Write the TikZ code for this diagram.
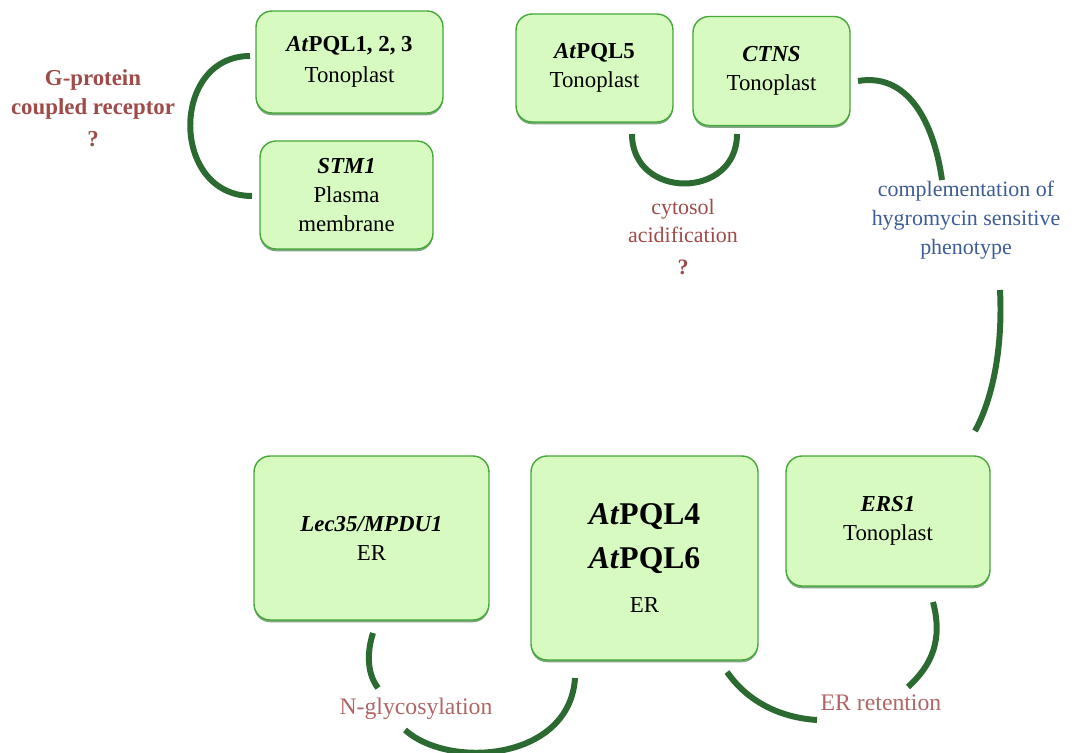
\documentclass[tikz,border=0pt]{standalone}
\usepackage{fontspec}
\setmainfont{Liberation Serif}
\usetikzlibrary{shadows}
\definecolor{boxfill}{HTML}{D7FAC0}
\definecolor{boxline}{HTML}{45A83A}
\definecolor{arcgreen}{HTML}{2B6A31}
\definecolor{redtext}{HTML}{A14A4A}
\definecolor{pinktext}{HTML}{B06666}
\definecolor{bluetext}{HTML}{3D5C98}
\begin{document}
\begin{tikzpicture}[x=0.02cm, y=-0.02cm,
        gene/.style={draw=boxline, fill=boxfill, line width=0.8pt, rounded corners=0.32cm, align=center, inner sep=0pt,
          font=\fontsize{13}{16.5}\selectfont,
          drop shadow={shadow xshift=0pt, shadow yshift=-1.3pt, fill=arcgreen, opacity=0.6}},
        link/.style={draw=arcgreen, line width=3.4pt},
        note/.style={align=center, inner sep=0pt}
      ]
        \useasboundingbox (0,0) rectangle (1086,753);
        % boxes
        \node[gene, minimum width=3.74cm, minimum height=2.04cm, font=\fontsize{13}{17.5}\selectfont] (pql123) at (349.5,62)
          {\textbf{\textit{At}PQL1, 2, 3}\\ Tonoplast};
        \node[gene, minimum width=3.46cm, minimum height=2.16cm] (stm1)   at (346.5,195) {\textbf{\textit{STM1}}\\ Plasma\\ membrane};
        \node[gene, minimum width=3.14cm, minimum height=2.16cm] (pql5)   at (594.5,68)  {\textbf{\textit{At}PQL5}\\ Tonoplast};
        \node[gene, minimum width=3.14cm, minimum height=2.18cm] (ctns)   at (771.5,71)  {\textbf{\textit{CTNS}}\\ Tonoplast};
        \node[gene, minimum width=4.70cm, minimum height=3.28cm] (lec35)  at (371.5,538) {\textbf{\textit{Lec35/MPDU1}}\\ ER};
        \node[gene, minimum width=4.54cm, minimum height=4.08cm, font=\fontsize{18}{25}\selectfont] (pql46) at (644.5,558)
          {\textbf{\textit{At}PQL4}\\ \textbf{\textit{At}PQL6}\\ {\fontsize{13}{16}\selectfont ER}};
        \node[gene, minimum width=4.08cm, minimum height=2.60cm] (ers1)   at (888,521)   {\textbf{\textit{ERS1}}\\ Tonoplast};
        % labels
        \node[note, text=redtext, font=\fontsize{13}{16.5}\selectfont\bfseries] (gpcr) at (93,108) {G-protein\\ coupled receptor\\[2pt] ?};
        \node[note, text=redtext, font=\fontsize{12.5}{16}\selectfont] (acid) at (683,237) {cytosol\\ acidification\\[2pt] \textbf{?}};
        \node[note, text=bluetext, font=\fontsize{12.5}{16.6}\selectfont] (hygro) at (966,220) {complementation of\\ hygromycin sensitive\\ phenotype};
        \node[note, text=pinktext, font=\fontsize{13.5}{16}\selectfont] (nglyc) at (416,709) {N-glycosylation};
        \node[note, text=pinktext, font=\fontsize{13.5}{16}\selectfont] (erret) at (881,703) {ER retention};
        % arc ends
        \coordinate (g1) at (250,56);   \coordinate (g2) at (252,196);
        \coordinate (c1) at (632,134);  \coordinate (c2) at (737,134);
        \coordinate (h1) at (858,81);   \coordinate (h2) at (942,180);
        \coordinate (h3) at (1000,290); \coordinate (h4) at (975,431);
        \coordinate (r1) at (933,602);  \coordinate (r2) at (908,687);
        \coordinate (r3) at (727,672);  \coordinate (r4) at (817,720);
        \coordinate (n1) at (575,678);  \coordinate (n2) at (405,730);
        \coordinate (n3) at (373,633);  \coordinate (n4) at (378,688);
        % arcs
        \draw[link] (g1) .. controls (170,56) and (170,196) .. (g2);
        \draw[link] (c1) .. controls (632,200) and (737,200) .. (c2);
        \draw[link] (h1) .. controls (912,72) and (935,130) .. (h2);
        \draw[link] (h3) .. controls (1003,350) and (992,400) .. (h4);
        \draw[link] (r1) .. controls (943,640) and (932,665) .. (r2);
        \draw[link] (r3) .. controls (750,705) and (785,718) .. (r4);
        \draw[link] (n1) .. controls (570,760) and (450,770) .. (n2);
        \draw[link] (n3) .. controls (366,655) and (368,675) .. (n4);
      \end{tikzpicture}
\end{document}
